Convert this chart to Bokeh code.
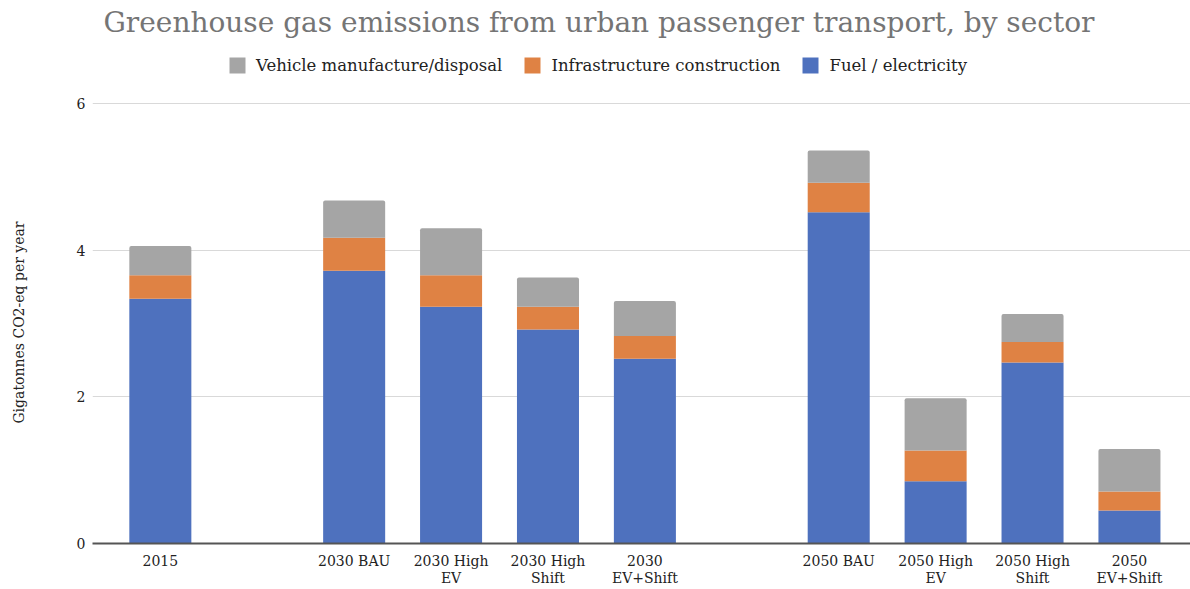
from bokeh.plotting import figure
from bokeh.layouts import column
from bokeh.models import ColumnDataSource, Legend, LegendItem, FixedTicker
from bokeh.embed import file_html
from bokeh.resources import INLINE

# Scenario groups (a blank slot separates each group)
groups = [
    ["2015"],
    ["2030 BAU", "2030 High EV", "2030 High Shift", "2030 EV+Shift"],
    ["2050 BAU", "2050 High EV", "2050 High Shift", "2050 EV+Shift"],
]
tick_labels = [
    "2015",
    "2030 BAU", "2030 High\nEV", "2030 High\nShift", "2030\nEV+Shift",
    "2050 BAU", "2050 High\nEV", "2050 High\nShift", "2050\nEV+Shift",
]

# Emissions, Gt CO2-eq per year
fuel = [3.34, 3.72, 3.23, 2.92, 2.52, 4.52, 0.85, 2.47, 0.45]
infrastructure = [0.32, 0.45, 0.43, 0.31, 0.31, 0.40, 0.42, 0.28, 0.26]
vehicle = [0.40, 0.51, 0.64, 0.40, 0.48, 0.44, 0.71, 0.38, 0.58]

series_names = ["Vehicle manufacture/disposal", "Infrastructure construction", "Fuel / electricity"]
title_text = "Greenhouse gas emissions from urban passenger transport, by sector"

BLUE = "#4e71be"
ORANGE = "#df8244"
GRAY = "#a5a5a5"
SERIF = "DejaVu Serif"
colors = [GRAY, ORANGE, BLUE]

# slot positions along x
xs = []
slot = 0
for g in groups:
    for _ in g:
        xs.append(slot)
        slot += 1
    slot += 1
categories = [c for g in groups for c in g]

infra_top = [a + b for a, b in zip(fuel, infrastructure)]
veh_top = [a + b for a, b in zip(infra_top, vehicle)]

src = ColumnDataSource(dict(x=xs, cat=categories, fuel=fuel,
                            infra=infra_top, veh=veh_top,
                            zero=[0] * len(xs)))

# ---- header: title and legend ----
head = figure(width=1190, height=90, output_backend="svg", toolbar_location=None,
              x_range=(0, 1), y_range=(0, 1),
              x_axis_location=None, y_axis_location=None,
              min_border_left=0, min_border_right=0, min_border_bottom=0,
              min_border_top=40)
head.outline_line_color = None
head.grid.grid_line_color = None
head.title.text = title_text
head.title.text_font = SERIF
head.title.text_font_size = "28px"
head.title.text_font_style = "normal"
head.title.text_color = "#757575"
head.title.align = "left"
head.title.offset = 11
head.title.standoff = 4

# legend swatches: one undrawn (NaN) point per series
nan = float("nan")
swatches = [head.vbar(x=[nan], top=[nan], width=0.1, fill_color=c, line_color=None)
            for c in colors]
legend = Legend(items=[LegendItem(label=n, renderers=[r])
                       for n, r in zip(series_names, swatches)],
                orientation="horizontal", location=(135, 15))
legend.label_text_font = SERIF
legend.label_text_font_size = "16.5px"
legend.label_text_color = "#222222"
legend.glyph_width = 20
legend.glyph_height = 20
legend.label_standoff = 9
legend.spacing = 20
legend.padding = 0
legend.margin = 0
legend.border_line_color = None
legend.background_fill_alpha = 0
head.add_layout(legend, "center")

# ---- stacked bars ----
p = figure(width=1190, height=499, output_backend="svg", toolbar_location=None,
           x_range=(-0.70, 10.63), y_range=(0, 6.03),
           min_border_left=92, min_border_right=0, min_border_bottom=45,
           min_border_top=11)
p.outline_line_color = None
p.background_fill_color = "white"
p.border_fill_color = "white"

W = 0.64
p.vbar(x="x", bottom="zero", top="fuel", width=W, source=src,
       fill_color=BLUE, line_color=None)
p.vbar(x="x", bottom="fuel", top="infra", width=W, source=src,
       fill_color=ORANGE, line_color=None)
p.vbar(x="x", bottom="infra", top="veh", width=W, source=src,
       fill_color=GRAY, line_color=None, border_radius=(2, 2, 0, 0))

p.xaxis.ticker = FixedTicker(ticks=xs)
p.xaxis.major_label_overrides = {x: lab for x, lab in zip(xs, tick_labels)}
p.xaxis.major_tick_line_color = None
p.xaxis.minor_tick_line_color = None
p.xaxis.axis_line_color = "#555555"
p.xaxis.axis_line_width = 2
p.xaxis.major_label_text_font = SERIF
p.xaxis.major_label_text_font_size = "14px"
p.xaxis.major_label_text_line_height = 1.1
p.xaxis.major_label_text_color = "#222222"
p.xaxis.major_label_standoff = 3

p.yaxis.ticker = FixedTicker(ticks=[0, 2, 4, 6])
p.yaxis.major_tick_line_color = None
p.yaxis.minor_tick_line_color = None
p.yaxis.axis_line_color = None
p.yaxis.major_label_text_font = SERIF
p.yaxis.major_label_text_font_size = "14px"
p.yaxis.major_label_text_color = "#222222"
p.yaxis.major_label_standoff = 1
p.yaxis.axis_label = "Gigatonnes CO2-eq per year"
p.yaxis.axis_label_text_font = SERIF
p.yaxis.axis_label_text_font_size = "14px"
p.yaxis.axis_label_text_font_style = "normal"
p.yaxis.axis_label_text_color = "#222222"
p.yaxis.axis_label_standoff = 47

p.xgrid.grid_line_color = None
p.ygrid.grid_line_color = "#d9d9d9"
p.ygrid.grid_line_width = 1

layout = column(head, p, spacing=0)
open("out.html", "w").write(file_html(layout, INLINE))
